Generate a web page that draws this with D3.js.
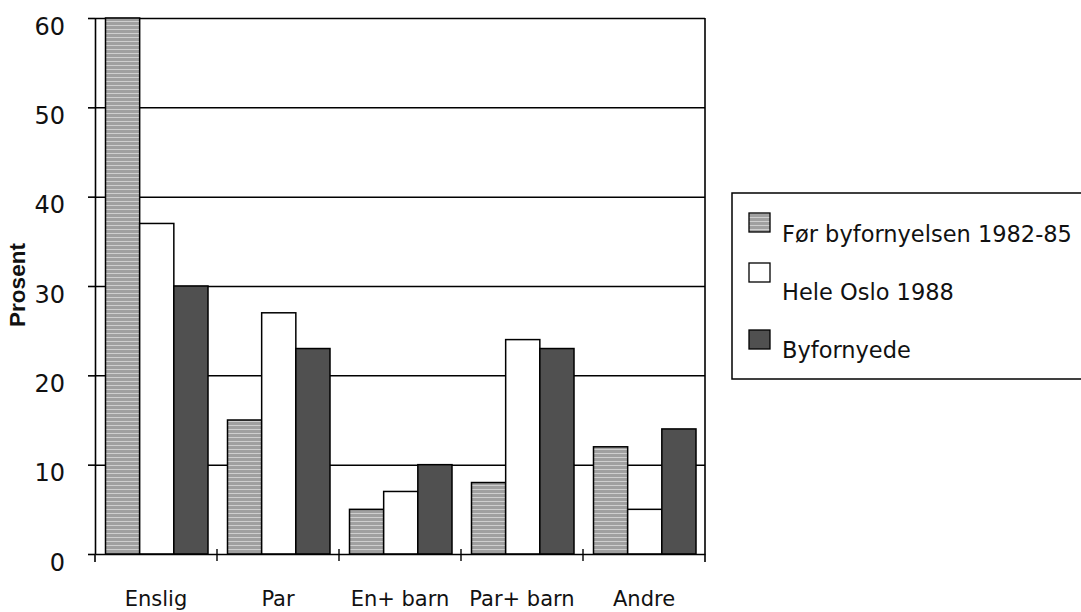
<!DOCTYPE html>
<html>
<head>
<meta charset="utf-8">
<script src="https://cdn.jsdelivr.net/npm/d3@7"></script>
<style>
  html, body { margin: 0; padding: 0; background: #ffffff; }
  svg { display: block; }
</style>
</head>
<body>
<svg id="chart" width="1081" height="612"></svg>
<script>
// ---- data ----
const categories = ["Enslig", "Par", "En+ barn", "Par+ barn", "Andre"];
const series = ["Før byfornyelsen 1982-85", "Hele Oslo 1988", "Byfornyede"];
const valuesFor = [60, 15, 5, 8, 12];       // Før byfornyelsen 1982-85
const valuesOslo = [37, 27, 7, 24, 5];      // Hele Oslo 1988
const valuesByfornyede = [30, 23, 10, 23, 14]; // Byfornyede
const yTicks = [0, 10, 20, 30, 40, 50, 60];
const yTitle = "Prosent";

const seriesValues = [valuesFor, valuesOslo, valuesByfornyede];
const rows = [];
categories.forEach((c, i) => {
  series.forEach((s, j) => rows.push({ cat: c, ser: s, val: seriesValues[j][i] }));
});

// ---- styling ----
const fontFam = "'DejaVu Sans', sans-serif";
const svg = d3.select("#chart");
const defs = svg.append("defs");
const pat = defs.append("pattern")
  .attr("id", "greyStripe").attr("patternUnits", "userSpaceOnUse")
  .attr("width", 6).attr("height", 4);
pat.append("rect").attr("width", 6).attr("height", 4).attr("fill", "#a0a0a0");
pat.append("rect").attr("y", 1).attr("width", 6).attr("height", 1).attr("fill", "#cfcfcf");

const fills = {
  [series[0]]: "url(#greyStripe)",
  [series[1]]: "#ffffff",
  [series[2]]: "#505050"
};

// ---- scales ----
const plotL = 95, plotR = 705, plotT = 18, plotB = 554;
const x = d3.scaleBand().domain(categories).range([plotL, plotR]).padding(0);
const x1 = d3.scaleBand().domain(series).range([10.5, 113]).padding(0);
const y = d3.scaleLinear().domain([0, 60]).range([plotB, plotT]);

// ---- gridlines ----
const grid = svg.append("g").attr("transform", `translate(${plotL},0)`)
  .call(d3.axisLeft(y).tickValues(yTicks.filter(t => t > 0)).tickSize(-(plotR - plotL)).tickFormat(""));
grid.select(".domain").remove();
grid.selectAll("line").attr("stroke", "#000").attr("stroke-width", 1.5);

// ---- bars ----
svg.append("g").selectAll("rect").data(rows).join("rect")
  .attr("x", d => x(d.cat) + x1(d.ser))
  .attr("y", d => y(d.val))
  .attr("width", x1.bandwidth())
  .attr("height", d => y(0) - y(d.val))
  .attr("fill", d => fills[d.ser])
  .attr("stroke", "#000")
  .attr("stroke-width", 1.5);

// ---- y axis ----
const yAxis = svg.append("g").attr("transform", `translate(${plotL},0)`)
  .call(d3.axisLeft(y).tickValues(yTicks).tickSize(7).tickPadding(23).tickSizeOuter(0));
yAxis.select(".domain").attr("stroke", "#000").attr("stroke-width", 1.6);
yAxis.selectAll("line").attr("stroke", "#000").attr("stroke-width", 1.6);
yAxis.selectAll("text").attr("font-family", fontFam).attr("font-size", 24)
  .attr("dy", 16).attr("fill", "#111");
// extend left axis below zero
svg.append("line").attr("x1", plotL).attr("x2", plotL).attr("y1", y(0)).attr("y2", y(0) + 8)
  .attr("stroke", "#000").attr("stroke-width", 1.6);

// right border
svg.append("line").attr("x1", plotR).attr("x2", plotR).attr("y1", y(60)).attr("y2", y(0) + 8)
  .attr("stroke", "#000").attr("stroke-width", 1.6);

// ---- x axis ----
const xAxis = svg.append("g").attr("transform", `translate(0,${plotB})`)
  .call(d3.axisBottom(x).tickSize(0).tickPadding(37).tickSizeOuter(0));
xAxis.select(".domain").attr("stroke", "#000").attr("stroke-width", 1.6);
xAxis.selectAll("text").attr("font-family", fontFam).attr("font-size", 21).attr("fill", "#111");

// category boundary ticks
const bounds = categories.slice(1).map(c => x(c));
svg.append("g").selectAll("line").data(bounds).join("line")
  .attr("x1", d => d).attr("x2", d => d)
  .attr("y1", plotB - 5).attr("y2", plotB + 7)
  .attr("stroke", "#000").attr("stroke-width", 1.4);

// ---- y title ----
svg.append("text")
  .attr("transform", "translate(25,285) rotate(-90)")
  .attr("text-anchor", "middle")
  .attr("font-family", "'Liberation Sans', Arial, sans-serif")
  .attr("font-weight", "bold")
  .attr("font-size", 22.5)
  .attr("fill", "#111")
  .text(yTitle);

// ---- legend ----
const lg = svg.append("g");
lg.append("rect").attr("x", 732).attr("y", 193).attr("width", 360).attr("height", 186)
  .attr("fill", "#fff").attr("stroke", "#000").attr("stroke-width", 1.5);
const legendSwatchY = [213, 263, 330];
const legendTextY = [242, 300, 358];
series.forEach((s, i) => {
  lg.append("rect").attr("x", 749).attr("y", legendSwatchY[i]).attr("width", 21).attr("height", 19)
    .attr("fill", fills[s]).attr("stroke", "#000").attr("stroke-width", 1.3);
  lg.append("text").attr("x", 782).attr("y", legendTextY[i])
    .attr("font-family", fontFam).attr("font-size", 22.5).attr("fill", "#111")
    .text(s);
});
</script>
</body>
</html>
